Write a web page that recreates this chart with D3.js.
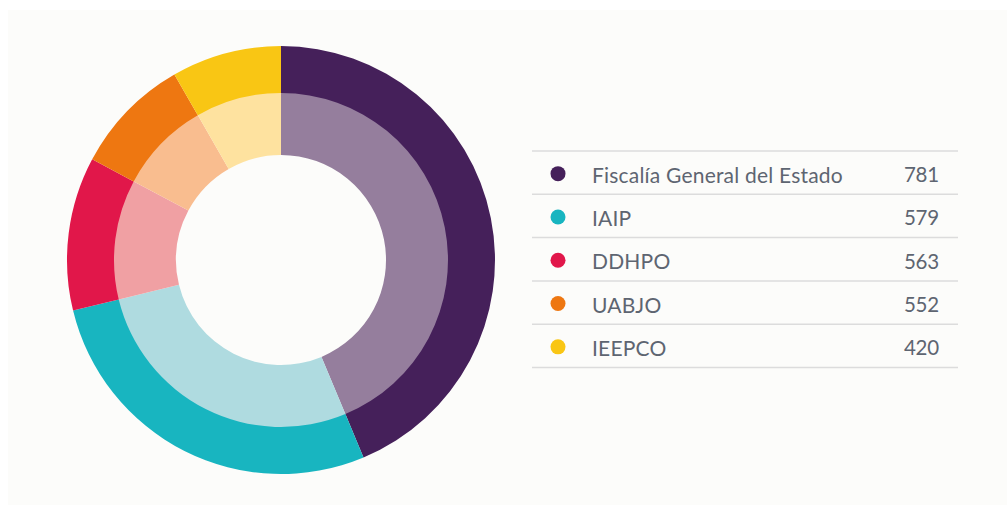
<!DOCTYPE html>
<html>
<head>
<meta charset="utf-8">
<script src="https://cdn.jsdelivr.net/npm/d3@7"></script>
<style>
  html, body { margin: 0; padding: 0; background: #ffffff; }
  svg { display: block; }
</style>
</head>
<body>
<svg id="chart" width="1007" height="507"></svg>
<script>
// Data
const categories = ["Fiscalía General del Estado", "IAIP", "DDHPO", "UABJO", "IEEPCO"];
const legendValues = [781, 579, 563, 552, 420];
// Arc shares as drawn in the ring (percent of circle)
const arcShares = [43.7, 27.5, 11.6, 8.9, 8.3];
const outerColors = ["#45205a", "#18b5c0", "#e1174a", "#ee7711", "#f9c614"];
const innerColors = ["#957e9d", "#afdbe0", "#f0a0a3", "#f9bd8f", "#fee29f"];

const svg = d3.select("#chart");
const W = 1007, H = 507;

// panel background
svg.append("rect").attr("x", 8).attr("y", 10).attr("width", W - 8).attr("height", H - 12)
  .attr("fill", "#fcfcfa");

const cx = 281, cy = 260;
const data = categories.map((c, i) => ({ name: c, share: arcShares[i], value: legendValues[i], i }));

const pie = d3.pie().sort(null).value(d => d.share);
const arcs = pie(data);

const outerArc = d3.arc().innerRadius(167).outerRadius(214);
const innerArc = d3.arc().innerRadius(105).outerRadius(168);

const g = svg.append("g").attr("transform", `translate(${cx},${cy})`);
g.selectAll("path.inner").data(arcs).join("path")
  .attr("class", "inner")
  .attr("d", innerArc)
  .attr("fill", d => innerColors[d.data.i]);
g.selectAll("path.outer").data(arcs).join("path")
  .attr("class", "outer")
  .attr("d", outerArc)
  .attr("fill", d => outerColors[d.data.i]);

// Legend table
const rowY = d3.scaleBand().domain(d3.range(categories.length)).range([151, 367.5]);
const lx0 = 532, lx1 = 958;

const leg = svg.append("g");
leg.selectAll("line.sep").data(d3.range(categories.length + 1)).join("line")
  .attr("class", "sep")
  .attr("x1", lx0).attr("x2", lx1)
  .attr("y1", i => i < categories.length ? rowY(i) : rowY(categories.length - 1) + rowY.bandwidth())
  .attr("y2", i => i < categories.length ? rowY(i) : rowY(categories.length - 1) + rowY.bandwidth())
  .attr("stroke", "#dcdcdc").attr("stroke-width", 1.5);

const rows = leg.selectAll("g.row").data(data).join("g")
  .attr("class", "row")
  .attr("transform", d => `translate(0,${rowY(d.i) + rowY.bandwidth() / 2})`);

rows.append("circle").attr("cx", 558).attr("cy", 1).attr("r", 7.5)
  .attr("fill", d => outerColors[d.i]);

rows.append("text").attr("x", 592).attr("y", 1.5)
  .attr("dominant-baseline", "central")
  .attr("font-family", "Lato, 'Open Sans', sans-serif")
  .attr("font-size", 21)
  .attr("letter-spacing", 0.2)
  .attr("fill", "#5e6571")
  .text(d => d.name);

rows.append("text").attr("x", 904).attr("y", 1.5)
  .attr("dominant-baseline", "central")
  .attr("font-family", "Lato, 'Open Sans', sans-serif")
  .attr("font-size", 20.5)
  .attr("letter-spacing", -0.3)
  .attr("fill", "#5e6571")
  .text(d => d.value);
</script>
</body>
</html>
